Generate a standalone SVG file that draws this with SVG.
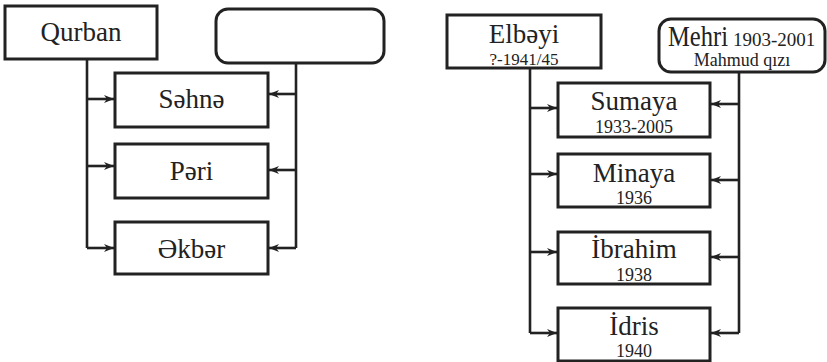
<svg xmlns="http://www.w3.org/2000/svg" width="827" height="362" viewBox="0 0 827 362">
<defs>
<marker id="ah" markerUnits="userSpaceOnUse" markerWidth="11" markerHeight="9" refX="10" refY="4.5" orient="auto">
<path d="M0,0.5 L10,4.5 L0,8.5 L3,4.5 z" fill="#222"/>
</marker>
<style>
.box{fill:#fff;stroke:#222;stroke-width:3}
.ln{fill:none;stroke:#222;stroke-width:2.6}
.ar{fill:none;stroke:#222;stroke-width:2.6;marker-end:url(#ah)}
.nm{font-family:"Liberation Serif","DejaVu Serif","Times New Roman",serif;font-size:27px;fill:#222;text-anchor:middle}
.yr{font-family:"Liberation Serif","DejaVu Serif","Times New Roman",serif;font-size:18px;fill:#222;text-anchor:middle}
</style>
</defs>
<rect width="827" height="362" fill="#fff"/>
<g id="connectors">
<path class="ln" d="M87,59 V248"/>
<path class="ar" d="M87,99 H114"/>
<path class="ar" d="M87,166 H114"/>
<path class="ar" d="M87,248 H114"/>
<path class="ln" d="M296,63 V248"/>
<path class="ar" d="M296,94 H269"/>
<path class="ar" d="M296,170 H269"/>
<path class="ar" d="M296,248 H269"/>
<path class="ln" d="M530,68 V333"/>
<path class="ar" d="M530,108 H557"/>
<path class="ar" d="M530,174 H557"/>
<path class="ar" d="M530,252 H557"/>
<path class="ar" d="M530,333 H557"/>
<path class="ln" d="M739,72 V333"/>
<path class="ar" d="M739,104 H711"/>
<path class="ar" d="M739,180 H711"/>
<path class="ar" d="M739,257 H711"/>
<path class="ar" d="M739,333 H711"/>
</g>
<g id="qurban"><rect class="box" x="5" y="6" width="152" height="53"/><text class="nm" x="81" y="41">Qurban</text></g>
<g id="unknown"><rect class="box" x="216" y="9" width="168" height="54" rx="12"/></g>
<g id="sehne"><rect class="box" x="115" y="73" width="153" height="54"/><text class="nm" x="191.5" y="108">Səhnə</text></g>
<g id="peri"><rect class="box" x="115" y="144" width="153" height="54"/><text class="nm" x="191.5" y="180">Pəri</text></g>
<g id="ekber"><rect class="box" x="115" y="222" width="153" height="52"/><text class="nm" x="191.5" y="258">Əkbər</text></g>
<g id="elbeyi"><rect class="box" x="447" y="15" width="154" height="53"/><text class="nm" x="524" y="43">Elbəyi</text><text class="yr" x="524" y="65" style="font-size:17px">?-1941/45</text></g>
<g id="mehri"><rect class="box" x="659" y="19" width="166" height="53" rx="12"/><text class="nm" x="668" y="46" style="text-anchor:start;font-size:29px" textLength="60" lengthAdjust="spacingAndGlyphs">Mehri</text><text class="yr" x="733" y="46" style="text-anchor:start;font-size:19px">1903-2001</text><text class="yr" x="742" y="66">Mahmud qızı</text></g>
<g id="sumaya"><rect class="box" x="558" y="83" width="152" height="54"/><text class="nm" x="634" y="110">Sumaya</text><text class="yr" x="634" y="133">1933-2005</text></g>
<g id="minaya"><rect class="box" x="558" y="154" width="152" height="53"/><text class="nm" x="634" y="182">Minaya</text><text class="yr" x="634" y="204">1936</text></g>
<g id="ibrahim"><rect class="box" x="558" y="232" width="152" height="52"/><text class="nm" x="634" y="258">İbrahim</text><text class="yr" x="634" y="281">1938</text></g>
<g id="idris"><rect class="box" x="558" y="308" width="152" height="53"/><text class="nm" x="634" y="335">İdris</text><text class="yr" x="634" y="357">1940</text></g>
</svg>
